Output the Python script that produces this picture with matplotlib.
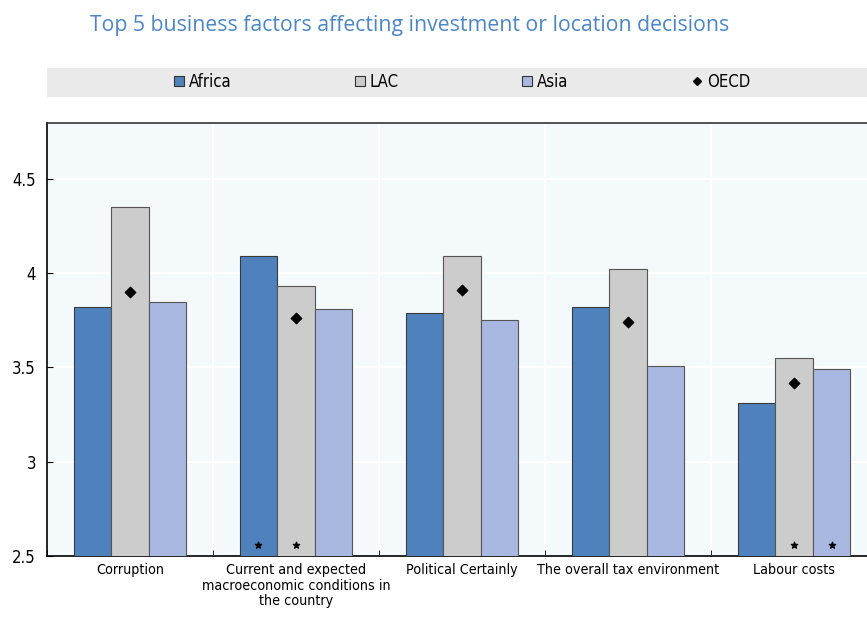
import matplotlib
matplotlib.use("Agg")
import matplotlib.pyplot as plt
import numpy as np
from matplotlib.patches import Rectangle, Patch
from matplotlib.lines import Line2D

plt.rcParams['font.family'] = ['DejaVu Sans']
plt.rcParams['font.stretch'] = 'condensed'

categories = ["Corruption",
              "Current and expected\nmacroeconomic conditions in\nthe country",
              "Political Certainly",
              "The overall tax environment",
              "Labour costs"]
africa = [3.82, 4.09, 3.79, 3.82, 3.31]
lac = [4.35, 3.93, 4.09, 4.02, 3.55]
asia = [3.85, 3.81, 3.75, 3.51, 3.49]
oecd = [3.90, 3.76, 3.91, 3.74, 3.42]
star_africa = [0, 1, 0, 0, 0]
star_lac = [0, 1, 0, 0, 1]
star_asia = [0, 0, 0, 0, 1]
yticks = [2.5, 3, 3.5, 4, 4.5]
yticklabels = ["2.5", "3", "3.5", "4", "4.5"]

W, H = 867, 620
fig = plt.figure(figsize=(W/100, H/100), dpi=100)
ax = fig.add_axes([47/W, 1-556/H, (877-47)/W, (556-123)/H])
ax.set_facecolor("#F4F9FC")

x = np.arange(len(categories))
bw = 0.226
c_af, c_lac, c_as = "#4F81BD", "#CCCCCC", "#A9B8E1"
ax.bar(x-bw, africa, bw, color=c_af, edgecolor="#3a3a3a", linewidth=0.8, zorder=3)
ax.bar(x, lac, bw, color=c_lac, edgecolor="#555555", linewidth=0.8, zorder=3)
ax.bar(x+bw, asia, bw, color=c_as, edgecolor="#555555", linewidth=0.8, zorder=3)
ax.scatter(x, oecd, marker="D", s=28, color="black", zorder=4)

for offs, flags in ((-bw, star_africa), (0, star_lac), (bw, star_asia)):
    for i, f in enumerate(flags):
        if f:
            ax.scatter(x[i]+offs, 2.56, marker="*", s=22, color="black", zorder=5)

ax.set_ylim(2.5, 4.797)
ax.set_xlim(-0.5, len(categories)-0.5)
ax.set_yticks(yticks)
ax.set_yticklabels(yticklabels, fontsize=12)
ax.set_xticks(x)
ax.set_xticklabels(categories, fontsize=10.3, linespacing=1.15)
ax.tick_params(axis='x', length=0, pad=5)
ax.tick_params(axis='y', direction='in', length=4, pad=8)
ax.set_xticks(np.arange(-0.5, len(categories)), minor=True)
ax.tick_params(axis='x', which='minor', direction='in', length=4)
ax.grid(True, axis='y', color="white", linewidth=1.5, zorder=0)
ax.grid(True, axis='x', which='minor', color="white", linewidth=1.5, zorder=0)
for s in ax.spines.values():
    s.set_color("black")
    s.set_linewidth(1.2)
ax.spines['top'].set_color("#333333")

fig.text(90/W, 1-25/H, "Top 5 business factors affecting investment or location decisions",
         color="#4A86C8", fontsize=15.3, va="center", ha="left",
         family=['Open Sans', 'DejaVu Sans'], stretch='normal')

fig.patches.append(Rectangle((47/W, 1-97/H), (867-47)/W, 29/H, transform=fig.transFigure,
                             facecolor="#EAEAEA", edgecolor="none"))
handles = [Patch(facecolor=c_af, edgecolor="#333333", linewidth=0.8),
           Patch(facecolor=c_lac, edgecolor="#333333", linewidth=0.8),
           Patch(facecolor=c_as, edgecolor="#333333", linewidth=0.8),
           Line2D([], [], marker="D", color="black", linestyle="none", markersize=4)]
fig.legend(handles, ["Africa", "LAC", "Asia", "OECD"], ncol=4, loc="center",
           bbox_to_anchor=(462/W, 1-82/H), frameon=False, fontsize=12,
           handlelength=0.6, handleheight=0.6, handletextpad=0.3, columnspacing=7.4)

fig.savefig("out.png", dpi=100)
